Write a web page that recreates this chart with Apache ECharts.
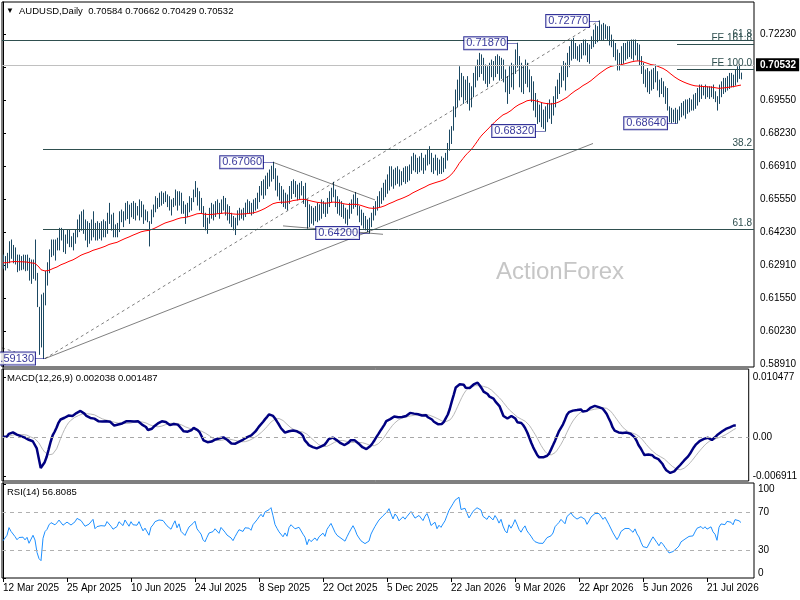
<!DOCTYPE html>
<html><head><meta charset="utf-8">
<script src="https://cdn.jsdelivr.net/npm/echarts@6/dist/echarts.min.js"></script>
<style>html,body{margin:0;padding:0;background:#fff;overflow:hidden;}#c{width:800px;height:600px;}</style>
</head><body><div id="c"></div>
<script>
// ---- data (daily bars, index 0 = 12 Mar 2025) ----
const highs = [
0.6331,0.6325,0.6338,0.6385,0.6392,0.6370,0.6360,0.6331,0.6331,0.6325,
0.6331,0.6330,0.6331,0.6318,0.6311,0.6311,0.6392,0.6257,0.6120,0.6170,
0.6177,0.6265,0.6300,0.6352,0.6392,0.6392,0.6392,0.6399,0.6439,0.6439,
0.6432,0.6412,0.6432,0.6432,0.6405,0.6419,0.6432,0.6473,0.6493,0.6506,
0.6513,0.6473,0.6466,0.6459,0.6473,0.6506,0.6459,0.6466,0.6459,0.6466,
0.6473,0.6466,0.6500,0.6540,0.6493,0.6500,0.6453,0.6459,0.6506,0.6513,
0.6506,0.6540,0.6547,0.6533,0.6540,0.6547,0.6540,0.6527,0.6554,0.6547,
0.6533,0.6513,0.6506,0.6466,0.6513,0.6533,0.6567,0.6560,0.6581,0.6587,
0.6581,0.6587,0.6574,0.6567,0.6554,0.6560,0.6594,0.6587,0.6587,0.6581,
0.6547,0.6533,0.6540,0.6567,0.6560,0.6594,0.6628,0.6601,0.6587,0.6560,
0.6527,0.6500,0.6480,0.6520,0.6540,0.6534,0.6547,0.6554,0.6540,0.6554,
0.6568,0.6560,0.6534,0.6527,0.6500,0.6487,0.6480,0.6510,0.6520,0.6513,
0.6520,0.6541,0.6554,0.6547,0.6540,0.6554,0.6560,0.6581,0.6608,0.6628,
0.6635,0.6650,0.6662,0.6675,0.6690,0.6706,0.6680,0.6650,0.6621,0.6608,
0.6594,0.6581,0.6574,0.6608,0.6628,0.6635,0.6628,0.6614,0.6621,0.6628,
0.6608,0.6621,0.6554,0.6534,0.6527,0.6520,0.6527,0.6540,0.6534,0.6554,
0.6547,0.6541,0.6560,0.6587,0.6601,0.6625,0.6594,0.6567,0.6554,0.6547,
0.6534,0.6520,0.6513,0.6540,0.6554,0.6574,0.6584,0.6560,0.6527,0.6513,
0.6500,0.6487,0.6473,0.6480,0.6500,0.6527,0.6547,0.6567,0.6587,0.6601,
0.6621,0.6634,0.6655,0.6688,0.6688,0.6675,0.6682,0.6688,0.6675,0.6668,
0.6682,0.6688,0.6688,0.6695,0.6728,0.6742,0.6735,0.6722,0.6728,0.6742,
0.6722,0.6735,0.6755,0.6769,0.6742,0.6722,0.6735,0.6722,0.6715,0.6728,
0.6722,0.6742,0.6782,0.6836,0.6850,0.6930,0.6998,0.7038,0.7092,0.7065,
0.7052,0.7038,0.7052,0.7025,0.7011,0.7065,0.7092,0.7119,0.7146,0.7140,
0.7126,0.7099,0.7092,0.7106,0.7119,0.7113,0.7133,0.7140,0.7133,0.7126,
0.7119,0.7079,0.7052,0.7092,0.7106,0.7099,0.7160,0.7187,0.7133,0.7106,
0.7092,0.7119,0.7106,0.7079,0.7052,0.7031,0.6984,0.6958,0.6937,0.6944,
0.6917,0.6930,0.6944,0.6958,0.6944,0.6971,0.7011,0.7038,0.7065,0.7092,
0.7113,0.7106,0.7146,0.7173,0.7200,0.7207,0.7186,0.7173,0.7180,0.7186,
0.7200,0.7200,0.7186,0.7180,0.7213,0.7240,0.7261,0.7254,0.7277,0.7261,
0.7267,0.7261,0.7254,0.7254,0.7220,0.7200,0.7186,0.7160,0.7146,0.7173,
0.7186,0.7186,0.7193,0.7193,0.7200,0.7200,0.7200,0.7186,0.7180,0.7133,
0.7106,0.7079,0.7085,0.7072,0.7079,0.7085,0.7099,0.7072,0.7038,0.7045,
0.7031,0.7011,0.7004,0.6930,0.6924,0.6917,0.6924,0.6917,0.6930,0.6944,
0.6951,0.6958,0.6958,0.6964,0.6958,0.6978,0.6984,0.7004,0.7018,0.7018,
0.7011,0.7018,0.7011,0.7011,0.7011,0.7018,0.6991,0.6971,0.7018,0.7031,
0.7045,0.7045,0.7052,0.7065,0.7065,0.7058,0.7079,0.7092,0.7099,0.70662];
const lows = [
0.6278,0.6271,0.6280,0.6300,0.6318,0.6300,0.6295,0.6264,0.6270,0.6272,
0.6275,0.6268,0.6270,0.6230,0.6217,0.6237,0.6230,0.6123,0.5930,0.5960,
0.5913,0.6130,0.6210,0.6260,0.6325,0.6331,0.6311,0.6352,0.6352,0.6392,
0.6345,0.6338,0.6379,0.6365,0.6365,0.6352,0.6379,0.6405,0.6426,0.6432,
0.6419,0.6392,0.6365,0.6379,0.6392,0.6405,0.6392,0.6392,0.6399,0.6392,
0.6405,0.6405,0.6419,0.6459,0.6432,0.6405,0.6405,0.6405,0.6426,0.6466,
0.6446,0.6473,0.6479,0.6459,0.6486,0.6479,0.6473,0.6493,0.6473,0.6486,
0.6459,0.6473,0.6466,0.6368,0.6459,0.6486,0.6506,0.6520,0.6527,0.6533,
0.6540,0.6547,0.6527,0.6513,0.6493,0.6527,0.6533,0.6513,0.6533,0.6500,
0.6500,0.6459,0.6486,0.6506,0.6513,0.6547,0.6567,0.6533,0.6513,0.6500,
0.6446,0.6433,0.6419,0.6460,0.6480,0.6473,0.6487,0.6500,0.6480,0.6500,
0.6513,0.6493,0.6473,0.6460,0.6446,0.6433,0.6414,0.6453,0.6473,0.6480,
0.6473,0.6487,0.6500,0.6500,0.6493,0.6500,0.6513,0.6520,0.6547,0.6574,
0.6560,0.6574,0.6600,0.6610,0.6630,0.6640,0.6594,0.6570,0.6554,0.6540,
0.6527,0.6520,0.6514,0.6540,0.6560,0.6580,0.6567,0.6554,0.6560,0.6574,
0.6540,0.6527,0.6440,0.6446,0.6460,0.6453,0.6470,0.6466,0.6473,0.6480,
0.6500,0.6487,0.6500,0.6527,0.6547,0.6567,0.6527,0.6500,0.6493,0.6487,
0.6480,0.6460,0.6453,0.6480,0.6500,0.6520,0.6527,0.6493,0.6466,0.6453,
0.6440,0.6433,0.6426,0.6420,0.6446,0.6473,0.6493,0.6513,0.6527,0.6540,
0.6554,0.6567,0.6581,0.6594,0.6610,0.6601,0.6615,0.6621,0.6610,0.6615,
0.6628,0.6621,0.6628,0.6634,0.6661,0.6675,0.6668,0.6661,0.6668,0.6675,
0.6661,0.6675,0.6695,0.6700,0.6668,0.6661,0.6675,0.6655,0.6661,0.6661,
0.6668,0.6682,0.6715,0.6755,0.6782,0.6836,0.6890,0.6930,0.6958,0.6971,
0.6944,0.6958,0.6944,0.6917,0.6930,0.6971,0.7011,0.7038,0.7052,0.7065,
0.7038,0.7025,0.7011,0.7025,0.7052,0.7038,0.7052,0.7065,0.7038,0.7045,
0.7031,0.6991,0.6944,0.6984,0.7011,0.7001,0.7065,0.7090,0.7011,0.6991,
0.6984,0.7025,0.7011,0.6991,0.6951,0.6917,0.6890,0.6863,0.6870,0.6850,
0.6843,0.6832,0.6870,0.6884,0.6863,0.6897,0.6930,0.6964,0.6984,0.7011,
0.7038,0.6998,0.7052,0.7092,0.7119,0.7126,0.7126,0.7119,0.7113,0.7126,
0.7140,0.7140,0.7113,0.7106,0.7166,0.7173,0.7186,0.7193,0.7200,0.7200,
0.7200,0.7207,0.7200,0.7180,0.7173,0.7133,0.7119,0.7079,0.7079,0.7099,
0.7106,0.7119,0.7126,0.7133,0.7126,0.7119,0.7140,0.7119,0.7099,0.7065,
0.7025,0.7011,0.6991,0.6984,0.6998,0.7004,0.7031,0.6998,0.6971,0.6984,
0.6971,0.6944,0.6917,0.6870,0.6866,0.6870,0.6864,0.6864,0.6877,0.6890,
0.6897,0.6884,0.6904,0.6910,0.6917,0.6917,0.6924,0.6937,0.6951,0.6964,
0.6978,0.6964,0.6971,0.6964,0.6971,0.6964,0.6951,0.6917,0.6944,0.6971,
0.6984,0.6991,0.6998,0.7004,0.7011,0.7011,0.7018,0.7031,0.7045,0.70429];
const closes = [
0.6300,0.6290,0.6320,0.6360,0.6340,0.6330,0.6310,0.6290,0.6300,0.6295,
0.6300,0.6285,0.6295,0.6260,0.6250,0.6290,0.6260,0.6140,0.6030,0.5980,
0.6160,0.6240,0.6270,0.6335,0.6370,0.6380,0.6350,0.6380,0.6420,0.6405,
0.6370,0.6390,0.6410,0.6400,0.6385,0.6400,0.6420,0.6460,0.6470,0.6450,
0.6440,0.6410,0.6400,0.6430,0.6420,0.6480,0.6410,0.6430,0.6420,0.6440,
0.6450,0.6440,0.6480,0.6470,0.6450,0.6430,0.6420,0.6450,0.6490,0.6500,
0.6470,0.6520,0.6500,0.6480,0.6520,0.6500,0.6510,0.6500,0.6530,0.6500,
0.6470,0.6490,0.6480,0.6440,0.6500,0.6520,0.6550,0.6540,0.6570,0.6560,
0.6570,0.6560,0.6540,0.6530,0.6520,0.6550,0.6580,0.6540,0.6570,0.6520,
0.6520,0.6490,0.6520,0.6550,0.6540,0.6580,0.6600,0.6550,0.6530,0.6510,
0.6460,0.6440,0.6470,0.6500,0.6500,0.6510,0.6530,0.6520,0.6500,0.6540,
0.6540,0.6510,0.6490,0.6480,0.6470,0.6450,0.6470,0.6490,0.6510,0.6500,
0.6500,0.6520,0.6530,0.6520,0.6510,0.6540,0.6550,0.6570,0.6590,0.6610,
0.6600,0.6640,0.6650,0.6660,0.6680,0.6650,0.6610,0.6590,0.6570,0.6560,
0.6540,0.6560,0.6540,0.6590,0.6610,0.6620,0.6590,0.6580,0.6600,0.6590,
0.6560,0.6540,0.6480,0.6510,0.6490,0.6500,0.6510,0.6490,0.6510,0.6520,
0.6530,0.6510,0.6550,0.6570,0.6590,0.6580,0.6540,0.6520,0.6510,0.6500,
0.6490,0.6480,0.6500,0.6520,0.6540,0.6560,0.6540,0.6510,0.6490,0.6470,
0.6460,0.6450,0.6450,0.6460,0.6490,0.6510,0.6530,0.6550,0.6570,0.6580,
0.6600,0.6610,0.6630,0.6660,0.6640,0.6620,0.6660,0.6650,0.6630,0.6640,
0.6660,0.6650,0.6670,0.6680,0.6710,0.6720,0.6690,0.6700,0.6710,0.6700,
0.6690,0.6720,0.6740,0.6720,0.6690,0.6700,0.6710,0.6680,0.6700,0.6690,
0.6710,0.6730,0.6770,0.6820,0.6840,0.6910,0.6980,0.7010,0.7060,0.6990,
0.7000,0.7010,0.6980,0.6950,0.6990,0.7040,0.7070,0.7100,0.7120,0.7100,
0.7060,0.7050,0.7040,0.7080,0.7090,0.7060,0.7110,0.7090,0.7060,0.7100,
0.7050,0.7010,0.6990,0.7070,0.7040,0.7080,0.7140,0.7100,0.7050,0.7020,
0.7060,0.7090,0.7040,0.7010,0.6980,0.6940,0.6910,0.6900,0.6890,0.6870,
0.6880,0.6900,0.6920,0.6910,0.6930,0.6950,0.7000,0.7020,0.7040,0.7070,
0.7090,0.7050,0.7130,0.7150,0.7180,0.7160,0.7150,0.7140,0.7130,0.7170,
0.7180,0.7160,0.7130,0.7160,0.7200,0.7220,0.7240,0.7230,0.7250,0.7240,
0.7220,0.7240,0.7230,0.7200,0.7190,0.7150,0.7140,0.7100,0.7120,0.7150,
0.7160,0.7170,0.7160,0.7170,0.7180,0.7150,0.7170,0.7140,0.7120,0.7080,
0.7040,0.7050,0.7020,0.7000,0.7050,0.7070,0.7060,0.7020,0.6990,0.7010,
0.6990,0.6960,0.6930,0.6890,0.6880,0.6890,0.6880,0.6900,0.6910,0.6930,
0.6920,0.6940,0.6930,0.6950,0.6940,0.6950,0.6970,0.6990,0.7000,0.7000,
0.6990,0.7000,0.6990,0.6990,0.7000,0.6980,0.6970,0.6940,0.7000,0.7020,
0.7030,0.7020,0.7040,0.7050,0.7040,0.7030,0.7060,0.7070,0.7060,0.70532];

const lastPrice = 0.70532;
const headerText = 'AUDUSD,Daily  0.70584 0.70662 0.70429 0.70532';
const macdText = 'MACD(12,26,9) 0.002038 0.001487';
const rsiText = 'RSI(14) 56.8085';
const dateLabels = ['12 Mar 2025','25 Apr 2025','10 Jun 2025','24 Jul 2025','8 Sep 2025','22 Oct 2025','5 Dec 2025','22 Jan 2026','9 Mar 2026','22 Apr 2026','5 Jun 2026','21 Jul 2026'];
const dateLabelIdx = [0,32,64,96,128,160,192,224,256,288,320,352];
const priceTicks = [0.5891,0.6023,0.6155,0.6291,0.6423,0.6555,0.6691,0.6823,0.6955,0.7091,0.7223];
const macdTicks = [-0.006911,0,0.010477];
const rsiTicks = [0,30,70,100];
const rsiLevels = [70,30];
// horizontal levels: price, start bar, text
const levelPrices = [0.7207,0.67585,0.64352,0.7183,0.70817];
const levelStart = [null,20,20,337,337];
const levelTexts = ['61.8','38.2','61.8','FE 161.8','FE 100.0'];
// trend lines [bar, price] -> [bar, price]
const trendFrom = [[21,0.5913],[21,0.5913],[135,0.6706],[140,0.6449],[-0.5,0.5956]];
const trendTo   = [[295,0.6782],[298,0.7277],[186,0.6554],[190,0.6415],[6,0.5940]];
const trendDashed = [false,true,false,false,true];
// price annotations
const annotTexts = ['0.59130','0.67060','0.64200','0.71870','0.68320','0.72770','0.68640'];
const annotIdx = [21,135,183,257,271,298,337];
const annotPrices = [0.5913,0.6706,0.6420,0.7187,0.6832,0.7277,0.6864];

// ---- indicators from closes ----
function ema(src,n){const k=2/(n+1);const out=[];let e=src[0];for(let i=0;i<src.length;i++){e=i===0?src[0]:src[i]*k+e*(1-k);out.push(e);}return out;}
const ma55 = ema(closes,55);
const e12 = ema(closes,12), e26 = ema(closes,26);
const macd = closes.map((c,i)=>e12[i]-e26[i]);
const signal = macd.map((v,i)=>{const s=Math.max(0,i-8);let sum=0;for(let j=s;j<=i;j++)sum+=macd[j];return sum/(i-s+1);});
// RSI(14), Wilder smoothing, seeded with the average gain/loss of the first 14 changes
let ag=0, al=0;
for(let i=1;i<=14;i++){const d=closes[i]-closes[i-1]; if(d>0)ag+=d; else al-=d;}
ag/=14; al/=14;
const rsi=[100-100/(1+ag/al)];
for(let i=1;i<closes.length;i++){const d=closes[i]-closes[i-1];const g=d>0?d:0,l=d<0?-d:0;
 ag=(ag*13+g)/14; al=(al*13+l)/14;
 rsi.push(al===0?100:100-100/(1+ag/al));}

const F = '"Liberation Sans",Arial,sans-serif';
const FS = 9.5, FA = 10;
const SLATE = '#2f4f4f';
const X_MIN = -0.5, X_MAX = 375.5;

const chart = echarts.init(document.getElementById('c'), null, {renderer:'canvas'});

const levelData = levelPrices.map((p,k)=>{
  const lbl = {show:true, formatter:levelTexts[k], position:'insideEndTop', distance:[2,1], color:SLATE, fontSize:10, fontFamily:F};
  if (levelStart[k]===null) return {yAxis:p, label:lbl};
  return [{coord:[levelStart[k],p], label:lbl},{coord:[X_MAX,p]}];
});
levelData.push({yAxis:lastPrice, lineStyle:{color:'#c0c0c0'}, label:{show:true, position:'end', distance:2, formatter:lastPrice.toFixed(5), backgroundColor:'#000', color:'#fff', fontWeight:'bold', fontSize:FA, fontFamily:F, padding:[2,3,1,4]}});

const xAx = (gi,show)=>({type:'value', gridIndex:gi, min:X_MIN, max:X_MAX, show:true,
  axisLine:{show:false}, splitLine:{show:false},
  axisTick:{show:show, customValues:dateLabelIdx, length:4, lineStyle:{color:'#000'}},
  axisLabel:{show:show, customValues:dateLabelIdx, formatter:v=>dateLabels[dateLabelIdx.indexOf(Math.round(v))]||'', align:'left', margin:5, fontSize:FA, fontFamily:F, color:'#000'}});

const yLbl = {fontSize:FA, fontFamily:F, color:'#000', showMinLabel:true, showMaxLabel:true};

const option = {
  animation:false,
  backgroundColor:'#fff',
  title:[
    {text:'▼', left:6, top:7, padding:0, textStyle:{fontSize:8, color:'#000', fontWeight:'normal'}},
    {text:headerText, left:19, top:6, padding:0, textStyle:{fontSize:FS, color:'#000', fontWeight:'normal', fontFamily:F}},
    {text:macdText, left:7, top:373, padding:0, textStyle:{fontSize:FS, color:'#000', fontWeight:'normal', fontFamily:F}},
    {text:rsiText, left:7, top:487, padding:0, textStyle:{fontSize:FS, color:'#000', fontWeight:'normal', fontFamily:F}},
    {text:'ActionForex', left:496, top:260, padding:0, textStyle:{fontSize:24, color:'#c6c6c6', fontWeight:'normal', fontFamily:F}}
  ],
  grid:[
    {left:2, top:2, width:752, height:365, show:true, borderColor:'#000', borderWidth:1},
    {left:2, top:369, width:752, height:112, show:true, borderColor:'#000', borderWidth:1},
    {left:2, top:483, width:752, height:95, show:true, borderColor:'#000', borderWidth:1}
  ],
  xAxis:[xAx(0,false), xAx(1,false), xAx(2,true)],
  yAxis:[
    {type:'value', gridIndex:0, position:'right', min:0.587888, max:0.735363, splitLine:{show:false},
     axisLine:{show:true, lineStyle:{color:'#000'}},
     axisTick:{show:true, customValues:priceTicks, length:3, lineStyle:{color:'#000'}},
     axisLabel:Object.assign({customValues:priceTicks, formatter:v=>v.toFixed(5), margin:6}, yLbl)},
    {type:'value', gridIndex:1, position:'right', min:-0.00768, max:0.011874, splitLine:{show:false},
     axisLine:{show:true, lineStyle:{color:'#000'}},
     axisTick:{show:true, customValues:macdTicks, length:3, lineStyle:{color:'#000'}},
     axisLabel:Object.assign({customValues:macdTicks, formatter:v=>v===0?'0.00':v.toFixed(6), margin:4}, yLbl)},
    {type:'value', gridIndex:2, position:'right', min:0, max:101, splitLine:{show:false},
     axisLine:{show:true, lineStyle:{color:'#000'}},
     axisTick:{show:true, customValues:rsiTicks, length:3, lineStyle:{color:'#000'}},
     axisLabel:Object.assign({customValues:rsiTicks, formatter:v=>v===100?'{t|100}':(v===0?'{b|0}':String(v)), margin:4,
       rich:{t:{padding:[11,0,0,0], fontSize:FA, fontFamily:F}, b:{padding:[0,0,9,0], fontSize:FA, fontFamily:F}}}, yLbl)}
  ],
  series:[
    {type:'custom', name:'bars', xAxisIndex:0, yAxisIndex:0, z:2,
     data: highs.map((h,i)=>[i, lows[i], h]),
     encode:{x:0, y:[1,2]},
     renderItem:(params, api)=>{
       const lo = api.coord([api.value(0), api.value(1)]);
       const hi = api.coord([api.value(0), api.value(2)]);
       const x = Math.floor(lo[0]) + 0.5;
       return {type:'line', shape:{x1:x, y1:lo[1]+0.5, x2:x, y2:hi[1]-0.5}, style:{stroke:'#1b4862', lineWidth:1}};
     }},
    {type:'line', name:'MA55', xAxisIndex:0, yAxisIndex:0, z:3, symbol:'none', data: ma55.map((v,i)=>[i,v]),
     lineStyle:{color:'#ff0000', width:1}},
    {type:'line', name:'levels', xAxisIndex:0, yAxisIndex:0, z:3, data:[],
     markLine:{silent:true, symbol:['none','none'], animation:false, lineStyle:{color:SLATE, width:1, type:'solid'}, data:levelData}},
    {type:'lines', name:'trend', coordinateSystem:'cartesian2d', xAxisIndex:0, yAxisIndex:0, z:4, clip:true,
     data: trendFrom.map((f,k)=>({coords:[f, trendTo[k]], lineStyle:{color:'#000', width:1, type: trendDashed[k]?[3,3]:'solid'}}))},
    {type:'lines', name:'connectors', coordinateSystem:'cartesian2d', xAxisIndex:0, yAxisIndex:0, z:5,
     data: annotIdx.map((ix,k)=>({coords:[[ix-5, annotPrices[k]],[ix, annotPrices[k]]]})),
     lineStyle:{color:'#000080', width:1}},
    {type:'scatter', name:'annotations', xAxisIndex:0, yAxisIndex:0, z:6, symbolSize:0,
     itemStyle:{color:'rgba(0,0,0,0)'},
     data: annotIdx.map((ix,k)=>[ix, annotPrices[k]]),
     label:{show:true, position:'left', distance:10, formatter:p=>annotTexts[p.dataIndex], color:'#000080', fontSize:11, fontFamily:F,
       backgroundColor:'#fff', borderColor:'#000080', borderWidth:1, padding:[1,1,0,2], lineHeight:11}},
    {type:'line', name:'MACD', xAxisIndex:1, yAxisIndex:1, z:4, symbol:'none', data: macd.map((v,i)=>[i,v]),
     lineStyle:{color:'#000080', width:2.5},
     markLine:{silent:true, symbol:['none','none'], label:{show:false}, lineStyle:{color:'#a8a8a8', width:1, type:[4,4]}, data:[{yAxis:0}]}},
    {type:'line', name:'Signal', xAxisIndex:1, yAxisIndex:1, z:3, symbol:'none', data: signal.map((v,i)=>[i,v]),
     lineStyle:{color:'#b8b8b8', width:1}},
    {type:'line', name:'RSI', xAxisIndex:2, yAxisIndex:2, z:4, symbol:'none', data: rsi.map((v,i)=>[i,v]),
     lineStyle:{color:'#1e90ff', width:1},
     markLine:{silent:true, symbol:['none','none'], label:{show:false}, lineStyle:{color:'#b0b0b0', width:1, type:[4,4]}, data: rsiLevels.map(v=>({yAxis:v}))}}
  ]
};
chart.setOption(option);
</script>
</body></html>
